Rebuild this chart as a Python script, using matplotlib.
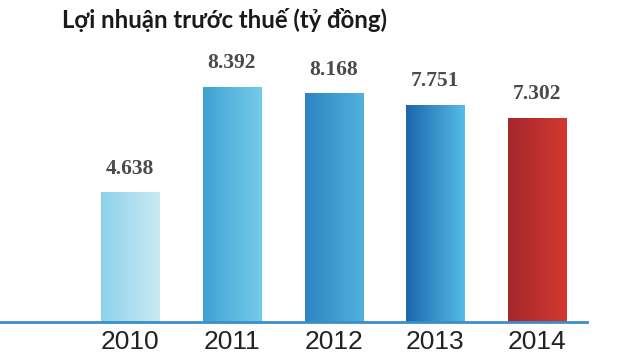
import numpy as np
import matplotlib
matplotlib.use("Agg")
import matplotlib.pyplot as plt
from matplotlib.colors import LinearSegmentedColormap

years = ["2010", "2011", "2012", "2013", "2014"]
profits = [4.638, 8.392, 8.168, 7.751, 7.302]
value_labels = ["4.638", "8.392", "8.168", "7.751", "7.302"]
grad_left = ["#8dd2ea", "#3fa2d3", "#2d84c1", "#1c66ab", "#a4272d"]
grad_right = ["#cbeaf4", "#76cbea", "#52b2de", "#55bce8", "#d2392f"]
title = "Lợi nhuận trước thuế (tỷ đồng)"

fig = plt.figure(figsize=(6.4, 3.61), dpi=100)
ax = fig.add_axes([0.0, 39/361, 587/640, 280/361])
ax.set_xlim(-1.278, 4.49)
ax.set_ylim(0, 10)

x = np.arange(len(years))
width = 0.57
bars = ax.bar(x, profits, width=width, color="none", edgecolor="none")
grad = np.linspace(0, 1, 256).reshape(1, -1)
for b, cl, cr in zip(bars, grad_left, grad_right):
    cmap = LinearSegmentedColormap.from_list("g", [cl, cr])
    x0, y0 = b.get_x(), b.get_y()
    w, h = b.get_width(), b.get_height()
    im = ax.imshow(grad, cmap=cmap, extent=[x0, x0 + w, y0, y0 + h],
                   aspect="auto", zorder=2)
    im.set_clip_path(b)

for xi, v, lab in zip(x, profits, value_labels):
    ax.annotate(lab, (xi, v), xytext=(0, 17), textcoords="offset points",
                ha="center", va="center", fontsize=15.5, fontweight="bold",
                family="Liberation Serif", color="#4a4a4a")

for s in ["top", "right", "left"]:
    ax.spines[s].set_visible(False)
ax.spines["bottom"].set_color("#3a8fcb")
ax.spines["bottom"].set_linewidth(2)
ax.set_yticks([])
ax.set_xticks(x)
ax.set_xticklabels(years, fontsize=19, family="Liberation Sans", color="#222222")
ax.tick_params(axis="x", length=0, pad=6)

fig.text(62/640, 1 - 20/361, title, ha="left", va="center", fontsize=17.2,
         fontweight="bold", family="Lato", color="#1a1a1a")

fig.savefig("out.png", dpi=100)
